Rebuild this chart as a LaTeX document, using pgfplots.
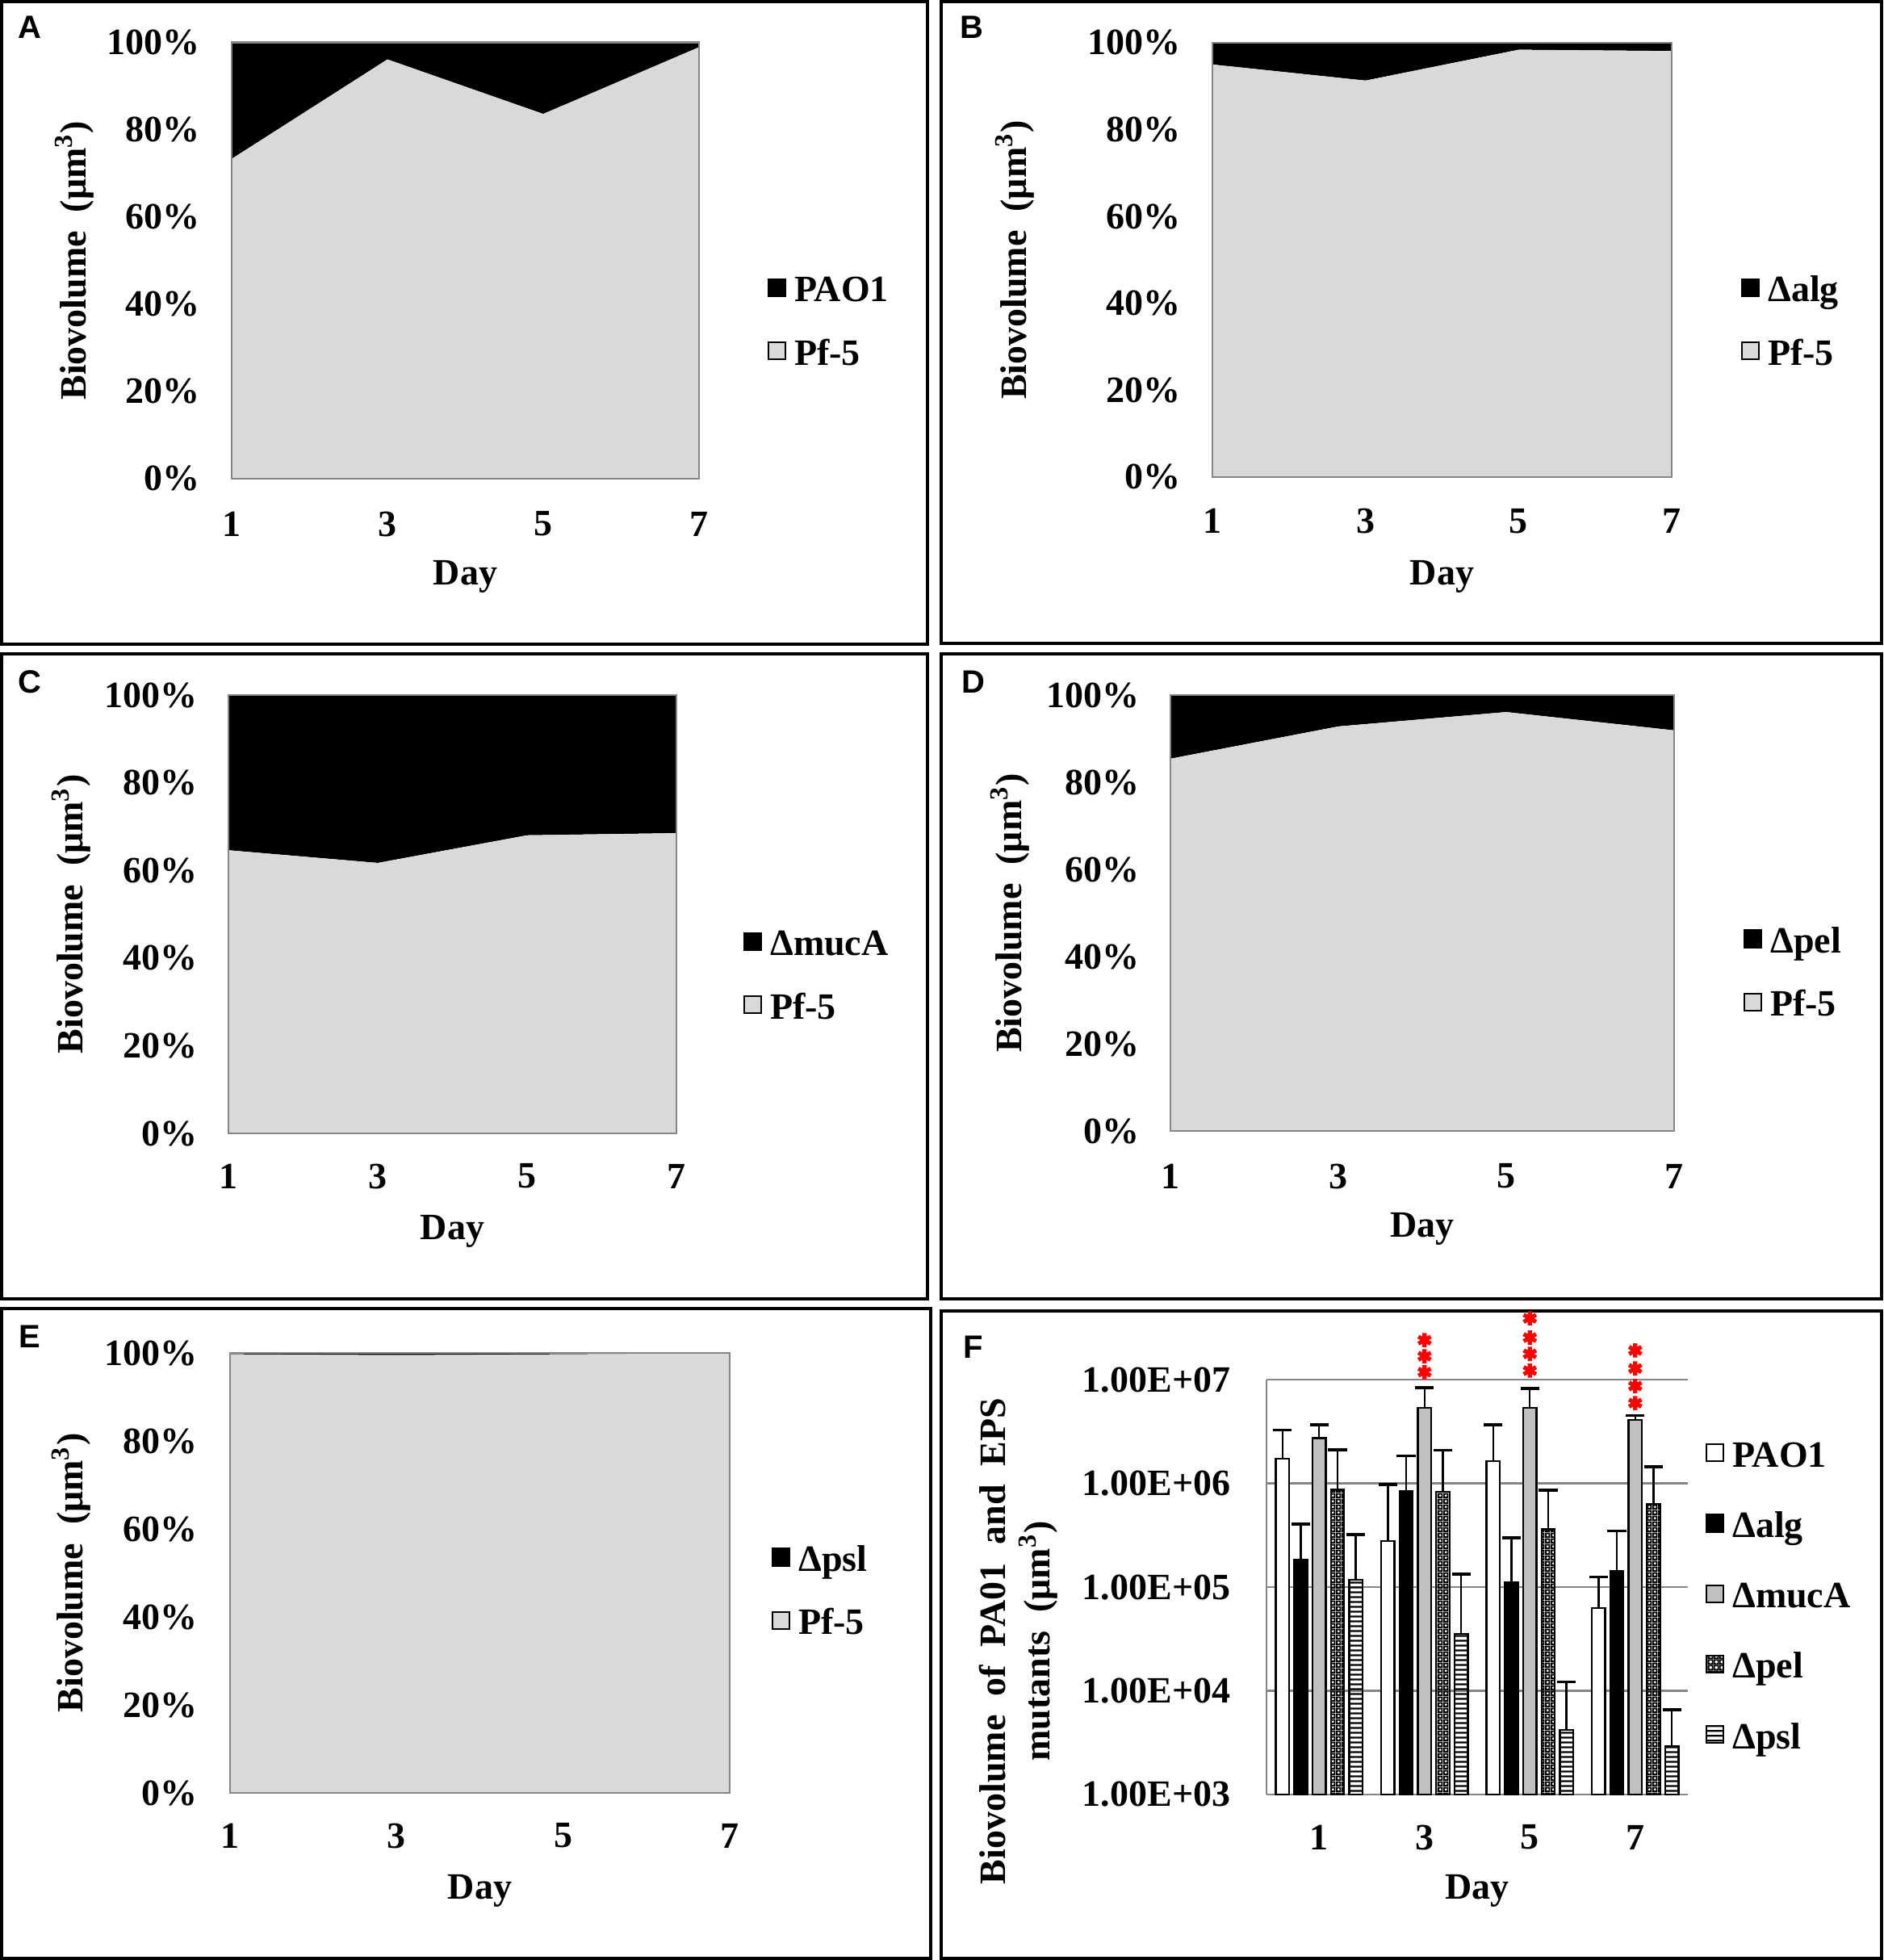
\documentclass[border=0pt]{standalone}
\usepackage{fontspec}
\setmainfont{Liberation Serif}
\newfontfamily\arialfont{Liberation Sans}
\usepackage{pgfplots}
\pgfplotsset{compat=1.18}
\usetikzlibrary{patterns}

\definecolor{pfgray}{RGB}{217,217,217}
\definecolor{mucgray}{RGB}{192,192,192}
\definecolor{axgray}{RGB}{134,134,134}

\pgfdeclarepatternformonly{pelcheck}{\pgfpointorigin}{\pgfqpoint{1.8pt}{1.8pt}}{\pgfqpoint{1.8pt}{1.8pt}}{%
  \pgfseteorule
  \pgfpathrectangle{\pgfpointorigin}{\pgfqpoint{1.8pt}{1.8pt}}%
  \pgfpathcircle{\pgfqpoint{0.9pt}{0.9pt}}{0.55pt}%
  \pgfusepath{fill}}
\pgfdeclarepatternformonly{pslhlines}{\pgfpointorigin}{\pgfqpoint{100pt}{1.4pt}}{\pgfqpoint{100pt}{1.4pt}}{%
  \pgfsetlinewidth{0.6pt}%
  \pgfpathmoveto{\pgfqpoint{0pt}{0.7pt}}\pgfpathlineto{\pgfqpoint{100pt}{0.7pt}}%
  \pgfusepath{stroke}}

\newcommand\lab{\bfseries\fontsize{11.5}{13.8}\selectfont}
\newcommand\letterfont{\arialfont\bfseries\fontsize{10}{12}\selectfont}

\pgfplotsset{
  blacksq/.style={legend image code/.code={\draw[fill=black,draw=black,line width=0.5pt] (0pt,-1.3pt) rectangle (5.3pt,4pt);}},
  graysq/.style={legend image code/.code={\draw[fill=pfgray,draw=black,line width=0.5pt] (0pt,-1.3pt) rectangle (5.3pt,4pt);}},
  whitesq/.style={legend image code/.code={\draw[fill=white,draw=black,line width=0.5pt] (0pt,-1.3pt) rectangle (5.3pt,4pt);}},
  mucsq/.style={legend image code/.code={\draw[fill=mucgray,draw=black,line width=0.5pt] (0pt,-1.3pt) rectangle (5.3pt,4pt);}},
  pelsq/.style={legend image code/.code={\draw[pattern=pelcheck,draw=black,line width=0.5pt] (0pt,-1.3pt) rectangle (5.3pt,4pt);}},
  pslsq/.style={legend image code/.code={\draw[pattern=pslhlines,draw=black,line width=0.5pt] (0pt,-1.3pt) rectangle (5.3pt,4pt);}},
  panel/.style={
    scale only axis, anchor=south west,
    xmin=1, xmax=7, ymin=0, ymax=100,
    xtick={1,3,5,7}, xticklabels={1,3,5,7},
    ytick={0,20,40,60,80,100},
    yticklabels={0\%,20\%,40\%,60\%,80\%,100\%},
    tick style={draw=none},
    axis line style={draw=axgray, line width=0.7pt},
    axis on top, stack plots=y,
    tick label style={font=\lab, inner sep=0pt},
    xticklabel style={anchor=center},
    yticklabel style={anchor=east},
    xlabel={Day},
    ylabel={Biovolume\ \ (μm\textsuperscript{3})},
    legend style={draw=none, fill=none, inner sep=0pt, outer sep=0pt, anchor=west,
      font=\lab, row sep=9.6pt, column sep=2.5pt,
      nodes={inner sep=0pt, text height=8pt, text depth=2pt}},
    legend cell align=left, reverse legend,
  },
}

\begin{document}
\begin{tikzpicture}
\useasboundingbox (0pt,0pt) rectangle (583.25pt,-607pt);

% panel frames
\draw[line width=0.8pt] (0.5pt,-0.5pt) rectangle (287.25pt,-199.5pt);
\draw[line width=0.8pt] (291.5pt,-0.5pt) rectangle (582.75pt,-199.25pt);
\draw[line width=0.8pt] (0.5pt,-202.5pt) rectangle (287.25pt,-402.25pt);
\draw[line width=0.8pt] (291.5pt,-202.5pt) rectangle (582.75pt,-402.25pt);
\draw[line width=0.8pt] (0.5pt,-405.25pt) rectangle (288.25pt,-606.5pt);
\draw[line width=0.8pt] (291.5pt,-406pt) rectangle (582.75pt,-606.5pt);

\node[font=\letterfont] at (9.25pt,-8.5pt) {A};
\node[font=\letterfont] at (301pt,-8.5pt) {B};
\node[font=\letterfont] at (9.25pt,-211.25pt) {C};
\node[font=\letterfont] at (301.5pt,-211.25pt) {D};
\node[font=\letterfont] at (9.25pt,-414pt) {E};
\node[font=\letterfont] at (301.5pt,-417.25pt) {F};

% ---------- A ----------
\begin{axis}[panel, at={(71.75pt,-148.25pt)}, width=144.75pt, height=135.125pt,
  xticklabel style={yshift=-14pt}, yticklabel style={xshift=-9.75pt},
  every axis x label/.style={at={(axis description cs:0.5,-0.2239)}, anchor=center, font=\lab},
  every axis y label/.style={at={(axis description cs:-0.3368,0.5)}, rotate=90, anchor=center, font=\lab},
  legend style={at={(axis description cs:1.1468,0.3552)}}]
\addplot[fill=pfgray, draw=none, graysq] coordinates {(1,73.3)(3,96.1)(5,83.6)(7,98.9)} \closedcycle;
\addlegendentry{Pf-5}
\addplot[fill=black, draw=none, blacksq] coordinates {(1,26.7)(3,3.9)(5,16.4)(7,1.1)} \closedcycle;
\addlegendentry{PAO1}
\end{axis}

% ---------- B ----------
\begin{axis}[panel, at={(375.5pt,-147.75pt)}, width=142.25pt, height=134.5pt,
  xticklabel style={yshift=-13.6pt}, yticklabel style={xshift=-9.75pt},
  every axis x label/.style={at={(axis description cs:0.5,-0.2286)}, anchor=center, font=\lab},
  every axis y label/.style={at={(axis description cs:-0.4306,0.5)}, rotate=90, anchor=center, font=\lab},
  legend style={at={(axis description cs:1.1511,0.3532)}}]
\addplot[fill=pfgray, draw=none, graysq] coordinates {(1,95.0)(3,91.3)(5,98.4)(7,98.1)} \closedcycle;
\addlegendentry{Pf-5}
\addplot[fill=black, draw=none, blacksq] coordinates {(1,5.0)(3,8.7)(5,1.6)(7,1.9)} \closedcycle;
\addlegendentry{Δalg}
\end{axis}

% ---------- C ----------
\begin{axis}[panel, at={(70.75pt,-351pt)}, width=138.75pt, height=135.75pt,
  xticklabel style={yshift=-13.25pt}, yticklabel style={xshift=-9.5pt},
  every axis x label/.style={at={(axis description cs:0.5,-0.2228)}, anchor=center, font=\lab},
  every axis y label/.style={at={(axis description cs:-0.3514,0.5)}, rotate=90, anchor=center, font=\lab},
  legend style={at={(axis description cs:1.1495,0.3554)}}]
\addplot[fill=pfgray, draw=none, graysq] coordinates {(1,64.6)(3,61.7)(5,68.0)(7,68.5)} \closedcycle;
\addlegendentry{Pf-5}
\addplot[fill=black, draw=none, blacksq] coordinates {(1,35.4)(3,38.3)(5,32.0)(7,31.5)} \closedcycle;
\addlegendentry{ΔmucA}
\end{axis}

% ---------- D ----------
\begin{axis}[panel, at={(362.5pt,-350.25pt)}, width=156pt, height=135pt,
  xticklabel style={yshift=-14pt}, yticklabel style={xshift=-9.5pt},
  every axis x label/.style={at={(axis description cs:0.5,-0.2241)}, anchor=center, font=\lab},
  every axis y label/.style={at={(axis description cs:-0.3189,0.5)}, rotate=90, anchor=center, font=\lab},
  legend style={at={(axis description cs:1.1378,0.3583)}}]
\addplot[fill=pfgray, draw=none, graysq] coordinates {(1,85.4)(3,92.8)(5,96.1)(7,91.9)} \closedcycle;
\addlegendentry{Pf-5}
\addplot[fill=black, draw=none, blacksq] coordinates {(1,14.6)(3,7.2)(5,3.9)(7,8.1)} \closedcycle;
\addlegendentry{Δpel}
\end{axis}

% ---------- E ----------
\begin{axis}[panel, at={(71.25pt,-555.25pt)}, width=154.75pt, height=136.25pt,
  xticklabel style={yshift=-13.25pt}, yticklabel style={xshift=-10pt},
  every axis x label/.style={at={(axis description cs:0.5,-0.222)}, anchor=center, font=\lab},
  every axis y label/.style={at={(axis description cs:-0.3183,0.5)}, rotate=90, anchor=center, font=\lab},
  legend style={at={(axis description cs:1.084,0.454)}}]
\addplot[fill=pfgray, draw=none, graysq] coordinates {(1,99.7)(3,99.5)(5,99.7)(7,99.9)} \closedcycle;
\addlegendentry{Pf-5}
\addplot[fill=black, draw=none, blacksq] coordinates {(1,0.3)(3,0.5)(5,0.3)(7,0.1)} \closedcycle;
\addlegendentry{Δpsl}
\end{axis}

% ---------- F ----------
\begin{axis}[scale only axis, anchor=south west, at={(392.25pt,-555.75pt)},
  width=130.5pt, height=128.5pt,
  ymode=log, log origin=infty, ymin=1e3, ymax=1e7, xmin=0.5, xmax=4.5,
  ybar=1.566pt, bar width=0.126,
  xtick={1,2,3,4}, xticklabels={1,3,5,7},
  ytick={1e3,1e4,1e5,1e6,1e7},
  yticklabels={1.00E+03,1.00E+04,1.00E+05,1.00E+06,1.00E+07},
  minor ytick={}, tick style={draw=none},
  axis lines*=left, axis line style={draw=axgray, line width=0.7pt, -},
  ymajorgrids, major grid style={draw=axgray, line width=0.7pt},
  clip=false,
  tick label style={font=\lab, inner sep=0pt},
  xticklabel style={anchor=center, yshift=-9pt},
  yticklabel style={anchor=east, xshift=-11pt},
  xlabel={Day},
  ylabel={Biovolume\ \ of\ \ PA01\ \ and\ \ EPS\\mutants\ \ (μm\textsuperscript{3})},
  every axis x label/.style={at={(axis description cs:0.5,-0.2315)}, anchor=center, font=\lab},
  every axis y label/.style={at={(axis description cs:-0.588,0.37)}, rotate=90, anchor=center, align=center, font=\lab},
  legend style={draw=none, fill=none, inner sep=0pt, outer sep=0pt, anchor=west,
    at={(axis description cs:1.0421,0.4735)},
    font=\lab, row sep=11.8pt, column sep=2.5pt,
    nodes={inner sep=0pt, text height=8pt, text depth=2pt}},
  legend cell align=left,
  error bars/error bar style={line width=0.6pt, black},
  error bars/error mark options={rotate=90, line width=0.9pt, mark size=2.9pt, black},
]
\addplot[fill=white, draw=black, line width=0.6pt, whitesq,
  error bars/.cd, y dir=plus, y explicit]
  coordinates {(1,1.73e6) +- (0,1.54e6) (2,2.77e5) +- (0,6.93e5) (3,1.63e6) +- (0,2.02e6) (4,6.3e4) +- (0,6.2e4)};
\addlegendentry{PAO1}
\addplot[fill=black, draw=black, line width=0.6pt, blacksq,
  error bars/.cd, y dir=plus, y explicit]
  coordinates {(1,1.84e5) +- (0,2.23e5) (2,8.4e5) +- (0,1.0e6) (3,1.11e5) +- (0,1.89e5) (4,1.42e5) +- (0,2.06e5)};
\addlegendentry{Δalg}
\addplot[fill=mucgray, draw=black, line width=0.6pt, mucsq,
  error bars/.cd, y dir=plus, y explicit]
  coordinates {(1,2.72e6) +- (0,0.93e6) (2,5.33e6) +- (0,3.07e6) (3,5.33e6) +- (0,2.87e6) (4,4.1e6) +- (0,4.0e5)};
\addlegendentry{ΔmucA}
\addplot[pattern=pelcheck, draw=black, line width=0.6pt, pelsq,
  error bars/.cd, y dir=plus, y explicit]
  coordinates {(1,8.7e5) +- (0,1.23e6) (2,8.3e5) +- (0,1.26e6) (3,3.6e5) +- (0,5.0e5) (4,6.36e5) +- (0,8.14e5)};
\addlegendentry{Δpel}
\addplot[pattern=pslhlines, draw=black, line width=0.6pt, pslsq,
  error bars/.cd, y dir=plus, y explicit]
  coordinates {(1,1.17e5) +- (0,2.03e5) (2,3.54e4) +- (0,9.76e4) (3,4.2e3) +- (0,8.0e3) (4,2.9e3) +- (0,3.7e3)};
\addlegendentry{Δpsl}
\end{axis}

% significance stars over the mucA bars (same geometry as F)
\begin{axis}[scale only axis, anchor=south west, at={(392.25pt,-555.75pt)},
  width=130.5pt, height=128.5pt,
  ymode=log, ymin=1e3, ymax=1e7, xmin=0.5, xmax=4.5, hide axis, clip=false]
\addplot[only marks, mark=asterisk, red, mark size=2.2pt, line width=1.3pt]
  coordinates {(2,2.40e7)(2,1.68e7)(2,1.18e7)
               (3,3.90e7)(3,2.54e7)(3,1.77e7)(3,1.22e7)
               (4,1.91e7)(4,1.28e7)(4,8.67e6)(4,5.94e6)};
\end{axis}
\end{tikzpicture}
\end{document}
